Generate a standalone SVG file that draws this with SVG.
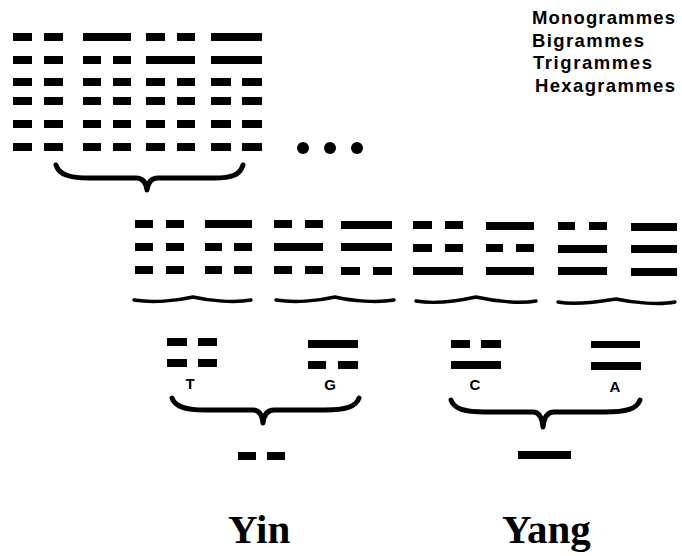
<svg xmlns="http://www.w3.org/2000/svg" width="682" height="556" viewBox="0 0 682 556">
<style>
.b{fill:#000}
.brace{fill:none;stroke:#000;stroke-width:5;stroke-linecap:round;stroke-linejoin:round}
.tilde{fill:none;stroke:#000;stroke-width:3.4;stroke-linecap:round}
.leg{font-family:"Liberation Sans",Arial,sans-serif;font-weight:bold;font-size:18.5px;fill:#000}
.lab{font-family:"Liberation Sans",Arial,sans-serif;font-weight:bold;font-size:15px;fill:#000;text-anchor:middle}
.big{font-family:"Liberation Serif","Times New Roman",serif;font-weight:bold;font-size:41px;fill:#000}
</style>
<rect width="682" height="556" fill="#fff"/>
<g id="legend">
<text class="leg" x="532" y="24" textLength="143" lengthAdjust="spacing">Monogrammes</text>
<text class="leg" x="532" y="47" textLength="112" lengthAdjust="spacing">Bigrammes</text>
<text class="leg" x="533" y="69" textLength="119" lengthAdjust="spacing">Trigrammes</text>
<text class="leg" x="535" y="92" textLength="140" lengthAdjust="spacing">Hexagrammes</text>
</g>
<g id="hexagram-1" class="b">
<rect x="13" y="33" width="19" height="8"/><rect x="44" y="33" width="19" height="8"/>
<rect x="13" y="56" width="19" height="8"/><rect x="44" y="56" width="19" height="8"/>
<rect x="13" y="78" width="19" height="8"/><rect x="44" y="78" width="19" height="8"/>
<rect x="13" y="97" width="19" height="8"/><rect x="44" y="97" width="19" height="8"/>
<rect x="13" y="120" width="19" height="8"/><rect x="44" y="120" width="19" height="8"/>
<rect x="13" y="143" width="19" height="8"/><rect x="44" y="143" width="19" height="8"/>
</g>
<g id="hexagram-2" class="b">
<rect x="83" y="33" width="48" height="8"/>
<rect x="83" y="56" width="18" height="8"/><rect x="113" y="56" width="18" height="8"/>
<rect x="83" y="78" width="18" height="8"/><rect x="113" y="78" width="18" height="8"/>
<rect x="83" y="97" width="18" height="8"/><rect x="113" y="97" width="18" height="8"/>
<rect x="83" y="120" width="18" height="8"/><rect x="113" y="120" width="18" height="8"/>
<rect x="83" y="143" width="18" height="8"/><rect x="113" y="143" width="18" height="8"/>
</g>
<g id="hexagram-3" class="b">
<rect x="146" y="33" width="19" height="8"/><rect x="177" y="33" width="18" height="8"/>
<rect x="146" y="56" width="49" height="8"/>
<rect x="146" y="78" width="19" height="8"/><rect x="177" y="78" width="18" height="8"/>
<rect x="146" y="97" width="19" height="8"/><rect x="177" y="97" width="18" height="8"/>
<rect x="146" y="120" width="19" height="8"/><rect x="177" y="120" width="18" height="8"/>
<rect x="146" y="143" width="19" height="8"/><rect x="177" y="143" width="18" height="8"/>
</g>
<g id="hexagram-4" class="b">
<rect x="211" y="33" width="51" height="8"/>
<rect x="211" y="56" width="51" height="8"/>
<rect x="211" y="78" width="20" height="8"/><rect x="242" y="78" width="20" height="8"/>
<rect x="211" y="97" width="20" height="8"/><rect x="242" y="97" width="20" height="8"/>
<rect x="211" y="120" width="20" height="8"/><rect x="242" y="120" width="20" height="8"/>
<rect x="211" y="143" width="20" height="8"/><rect x="242" y="143" width="20" height="8"/>
</g>
<g id="ellipsis" class="b">
<circle cx="303" cy="148" r="6"/><circle cx="330" cy="148" r="6"/><circle cx="357" cy="148" r="6"/>
</g>
<g id="trigram-1" class="b">
<rect x="135" y="220" width="18" height="8"/><rect x="166" y="220" width="18" height="8"/>
<rect x="135" y="243" width="18" height="8"/><rect x="166" y="243" width="18" height="8"/>
<rect x="135" y="266" width="18" height="8"/><rect x="166" y="266" width="18" height="8"/>
</g>
<g id="trigram-2" class="b">
<rect x="205" y="220" width="47" height="8"/>
<rect x="205" y="243" width="17" height="8"/><rect x="234" y="243" width="18" height="8"/>
<rect x="205" y="266" width="17" height="8"/><rect x="234" y="266" width="18" height="8"/>
</g>
<g id="trigram-3" class="b">
<rect x="274" y="220" width="18" height="8"/><rect x="305" y="220" width="18" height="8"/>
<rect x="274" y="243" width="49" height="8"/>
<rect x="274" y="266" width="18" height="8"/><rect x="305" y="266" width="18" height="8"/>
</g>
<g id="trigram-4" class="b">
<rect x="341" y="221" width="51" height="8"/>
<rect x="341" y="243" width="51" height="8"/>
<rect x="341" y="267" width="19" height="8"/><rect x="373" y="267" width="19" height="8"/>
</g>
<g id="trigram-5" class="b">
<rect x="413" y="221" width="19" height="8"/><rect x="445" y="221" width="18" height="8"/>
<rect x="413" y="244" width="19" height="8"/><rect x="445" y="244" width="18" height="8"/>
<rect x="413" y="267" width="50" height="8"/>
</g>
<g id="trigram-6" class="b">
<rect x="486" y="222" width="48" height="8"/>
<rect x="486" y="244" width="17" height="8"/><rect x="516" y="244" width="18" height="8"/>
<rect x="486" y="267" width="48" height="8"/>
</g>
<g id="trigram-7" class="b">
<rect x="558" y="222" width="17" height="8"/><rect x="589" y="222" width="18" height="8"/>
<rect x="558" y="245" width="49" height="8"/>
<rect x="558" y="267" width="49" height="8"/>
</g>
<g id="trigram-8" class="b">
<rect x="631" y="223" width="46" height="8"/>
<rect x="631" y="245" width="46" height="8"/>
<rect x="631" y="268" width="46" height="8"/>
</g>
<g id="bigram-T">
<rect class="b" x="167" y="338" width="20" height="8"/><rect class="b" x="198" y="338" width="19" height="8"/>
<rect class="b" x="167" y="359" width="20" height="8"/><rect class="b" x="198" y="359" width="19" height="8"/>
<text class="lab" x="190" y="389">T</text>
</g>
<g id="bigram-G">
<rect class="b" x="308" y="340" width="50" height="8"/>
<rect class="b" x="308" y="361" width="18" height="8"/><rect class="b" x="338" y="361" width="20" height="8"/>
<text class="lab" x="330" y="390">G</text>
</g>
<g id="bigram-C">
<rect class="b" x="451" y="340" width="19" height="8"/><rect class="b" x="481" y="340" width="20" height="8"/>
<rect class="b" x="451" y="361" width="50" height="8"/>
<text class="lab" x="475" y="390">C</text>
</g>
<g id="bigram-A">
<rect class="b" x="591" y="341" width="49" height="7"/>
<rect class="b" x="591" y="362" width="50" height="8"/>
<text class="lab" x="615" y="392">A</text>
</g>
<g id="yin">
<rect class="b" x="238" y="452" width="18" height="8"/><rect class="b" x="267" y="452" width="18" height="8"/>
<text class="big" x="228" y="543">Yin</text>
</g>
<g id="yang">
<rect class="b" x="518" y="451" width="53" height="8"/>
<text class="big" x="502" y="543">Yang</text>
</g>
<g id="connectors">
<path class="brace" d="M56,165 C59,175 70,178 90,178 L136,178 C142,178 146,182 147,190 C148,182 152,178 158,178 L214,178 C232,178 240,175 243,165"/>
<path class="tilde" d="M134,300 C152,303 176,301 193,297 C210,301 235,303 251,300"/>
<path class="tilde" d="M276,300 C294,303 318,301 335,297 C352,301 378,303 394,300"/>
<path class="tilde" d="M416,301 C434,304 458,301 476,297 C494,301 520,304 536,301"/>
<path class="tilde" d="M558,302 C575,305 598,302 616,299 C634,303 660,305 675,302"/>
<path class="brace" d="M172,398 C175,407 186,410 205,410 L253,410 C259,410 262,414 263,423 C264,414 268,410 274,410 L325,410 C345,410 356,407 359,398"/>
<path class="brace" d="M451,400 C454,409 465,412 485,412 L533,412 C539,412 542,417 543,427 C544,417 548,412 554,412 L605,412 C626,412 637,409 640,400"/>
</g>
</svg>
